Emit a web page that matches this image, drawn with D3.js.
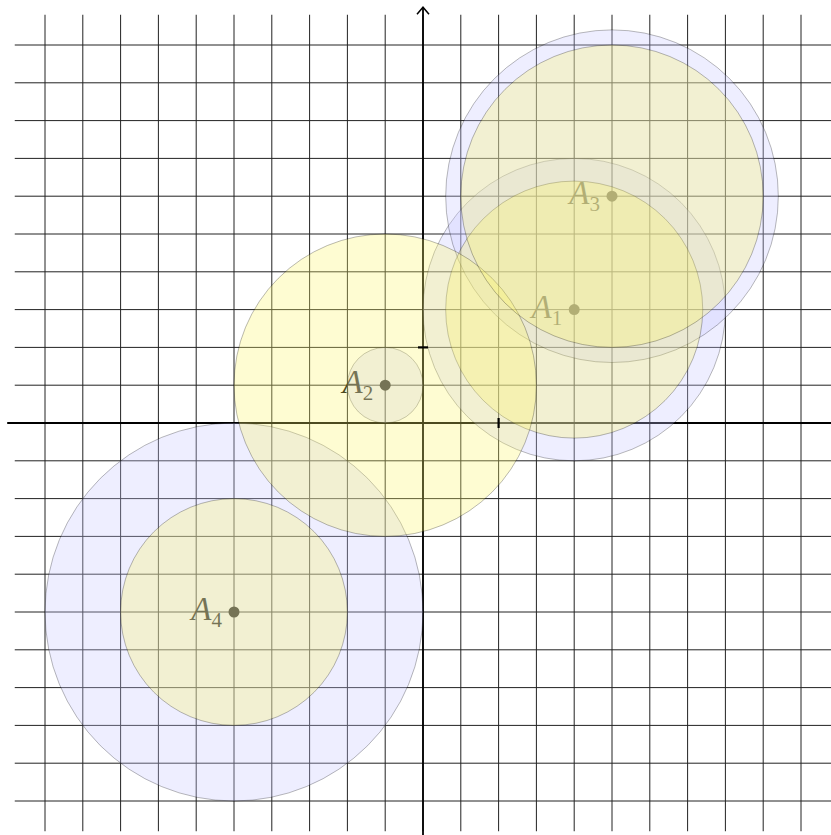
<!DOCTYPE html>
<html>
<head>
<meta charset="utf-8">
<script src="https://cdn.jsdelivr.net/npm/d3@7"></script>
<style>
  html, body { margin: 0; padding: 0; background: #fff; }
</style>
</head>
<body>
<div id="chart"></div>
<script>
// points and their two circles
const names = ['1', '2', '3', '4'];
const pointsX = [4, -1, 5, -5];
const pointsY = [3, 1, 6, -5];
const blueRadius = [4, 1, 4.4, 5];
const yellowRadius = [3.4, 4, 4, 3];
const gridTicks = d3.range(-10, 11);
const axisTicks = [2];

function draw() {
    const dimensions = {
        width: 831,
        height: 835,
        origin: 423,
        unit: 37.8
    };

    const svg = d3.select('#chart')
      .append('svg')
      .attr('width', dimensions.width)
      .attr('height', dimensions.height);

    const xScale = d3.scaleLinear()
        .domain([-11, 11])
        .range([dimensions.origin - 11 * dimensions.unit, dimensions.origin + 11 * dimensions.unit]);
    const yScale = d3.scaleLinear()
        .domain([-11, 11])
        .range([dimensions.origin + 11 * dimensions.unit, dimensions.origin - 11 * dimensions.unit]);
    const rScale = d3.scaleLinear().domain([0, 1]).range([0, dimensions.unit]);

    // grid
    const g = svg.append('g').attr('stroke', '#222').attr('stroke-width', 1);
    g.selectAll('.v').data(gridTicks).join('line')
        .attr('x1', d => xScale(d)).attr('x2', d => xScale(d))
        .attr('y1', yScale(10.8)).attr('y2', yScale(-10.8));
    g.selectAll('.h').data(gridTicks).join('line')
        .attr('y1', d => yScale(d)).attr('y2', d => yScale(d))
        .attr('x1', xScale(-10.8)).attr('x2', xScale(10.8));

    // axes
    const ax = svg.append('g').attr('stroke', '#000').attr('stroke-width', 1.8).attr('fill', 'none');
    ax.append('line')
        .attr('x1', xScale(-11)).attr('x2', xScale(11))
        .attr('y1', yScale(0)).attr('y2', yScale(0));
    ax.append('line')
        .attr('x1', xScale(0)).attr('x2', xScale(0))
        .attr('y1', yScale(-11)).attr('y2', yScale(11));
    ax.append('path')
        .attr('stroke-width', 1.5)
        .attr('d', `M${xScale(0) - 6},${yScale(11) + 7} L${xScale(0)},${yScale(11)} L${xScale(0) + 6},${yScale(11) + 7}`);

    // points and labels (under the circles)
    svg.selectAll('circle.pt').data(names).join('circle')
        .attr('cx', (d, i) => xScale(pointsX[i]))
        .attr('cy', (d, i) => yScale(pointsY[i]))
        .attr('r', 5.5)
        .attr('fill', '#000');

    const labels = svg.selectAll('text.lbl').data(names).join('text')
        .attr('x', (d, i) => xScale(pointsX[i]) - 12)
        .attr('y', (d, i) => yScale(pointsY[i]) + 8)
        .attr('text-anchor', 'end')
        .attr('font-family', '"Liberation Serif", serif')
        .attr('fill', '#000');
    labels.append('tspan')
        .attr('font-style', 'italic')
        .attr('font-size', 33)
        .text('A');
    labels.append('tspan')
        .attr('font-size', 21)
        .attr('dy', 7)
        .text(d => d);

    // circles
    const circles = svg.append('g').attr('stroke', '#000').attr('stroke-width', 0.9);
    circles.selectAll('.blue').data(names).join('circle')
        .attr('cx', (d, i) => xScale(pointsX[i]))
        .attr('cy', (d, i) => yScale(pointsY[i]))
        .attr('r', (d, i) => rScale(blueRadius[i]))
        .attr('fill', 'rgb(198,198,255)')
        .attr('fill-opacity', 0.3)
        .attr('stroke-opacity', 0.3);
    circles.selectAll('.yellow').data(names).join('circle')
        .attr('cx', (d, i) => xScale(pointsX[i]))
        .attr('cy', (d, i) => yScale(pointsY[i]))
        .attr('r', (d, i) => rScale(yellowRadius[i]))
        .attr('fill', 'rgb(252,245,105)')
        .attr('fill-opacity', 0.3)
        .attr('stroke-opacity', 0.3);

    // ticks drawn on top
    const tk = svg.append('g').attr('stroke', '#000').attr('stroke-width', 2.2);
    tk.selectAll('.tx').data(axisTicks).join('line')
        .attr('x1', d => xScale(d)).attr('x2', d => xScale(d))
        .attr('y1', yScale(0) - 5).attr('y2', yScale(0) + 5);
    tk.selectAll('.ty').data(axisTicks).join('line')
        .attr('y1', d => yScale(d)).attr('y2', d => yScale(d))
        .attr('x1', xScale(0) - 5).attr('x2', xScale(0) + 5);
}

draw();
</script>
</body>
</html>
